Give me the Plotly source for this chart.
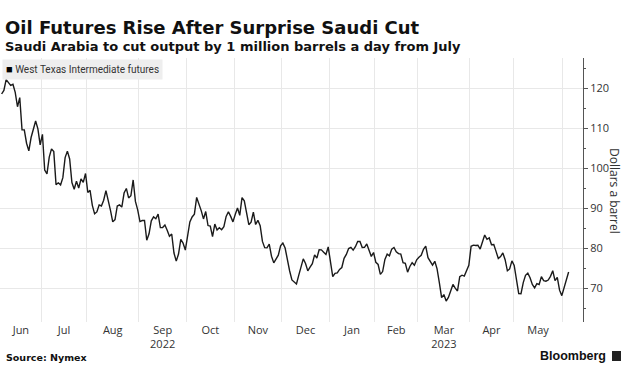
import pandas as pd
import plotly.graph_objects as go

# ---- data: WTI futures settlements (USD/bbl), one list per month ----
HOLIDAYS = ["2022-06-20", "2022-07-04", "2022-09-05", "2022-11-24", "2022-12-26",
            "2023-01-02", "2023-01-16", "2023-02-20", "2023-04-07", "2023-05-29"]
START, END = "2022-06-06", "2023-06-05"

jun22 = [118.50, 119.41, 122.11, 121.51, 120.67, 120.93, 118.93, 115.31, 117.59, 109.56,
         109.52, 106.19, 104.27, 107.62, 109.57, 111.76, 109.78, 105.76]
jul22 = [108.43, 99.50, 98.53, 102.73, 104.79, 104.09, 95.84, 96.30, 95.78, 97.59,
         102.60, 104.22, 102.26, 96.35, 94.70, 96.70, 94.98, 97.26, 96.42, 98.62]
aug22 = [93.89, 94.42, 90.66, 88.54, 89.01, 90.76, 90.50, 91.93, 94.34, 92.09, 89.41, 86.53,
         87.11, 90.50, 90.77, 90.23, 93.74, 94.89, 92.52, 93.06, 97.01, 91.64, 89.55]
sep22 = [86.61, 86.87, 86.88, 81.94, 83.54, 86.79, 87.78, 87.31, 88.48, 85.10, 85.11,
         85.73, 84.45, 82.94, 83.49, 78.74, 76.71, 78.50, 82.15, 81.23, 79.49]
oct22 = [83.63, 86.52, 87.76, 88.45, 92.64, 91.13, 89.35, 87.27, 89.11, 85.61, 85.46,
         82.82, 85.98, 84.51, 85.05, 84.58, 85.32, 87.91, 89.08, 87.90, 86.53]
nov22 = [88.37, 90.00, 88.17, 92.61, 91.79, 88.91, 85.83, 86.47, 88.96, 85.87, 86.92,
         85.59, 81.64, 80.08, 80.04, 80.95, 77.94, 76.28, 77.24, 78.20, 80.55]
dec22 = [81.22, 79.98, 76.93, 74.25, 72.01, 71.46, 71.02, 73.17, 75.39, 77.28, 76.11,
         74.29, 75.19, 76.09, 78.29, 77.49, 79.56, 79.53, 78.96, 78.40, 80.26]
jan23 = [76.93, 72.84, 73.67, 73.77, 74.63, 75.12, 77.41, 78.39, 79.86, 80.18,
         79.48, 80.33, 81.64, 81.62, 80.13, 80.15, 81.01, 79.68, 77.90, 78.87]
feb23 = [76.41, 75.88, 73.39, 74.11, 77.14, 78.47, 78.06, 79.72, 80.14, 79.06,
         78.59, 78.49, 76.34, 76.16, 73.95, 75.39, 76.32, 75.68, 77.05]
mar23 = [77.69, 78.16, 79.68, 80.46, 77.58, 76.66, 75.72, 76.68, 74.80, 71.33, 67.61, 68.35,
         66.74, 67.64, 69.33, 70.90, 69.96, 69.26, 72.81, 73.20, 72.97, 74.37, 75.67]
apr23 = [80.42, 80.71, 80.61, 80.70, 79.74, 81.53, 83.26, 82.16, 82.52, 80.83,
         80.86, 79.16, 77.37, 77.87, 78.76, 77.07, 74.30, 74.76, 76.78]
may23 = [75.66, 71.66, 68.60, 68.56, 71.34, 73.16, 73.71, 72.56, 70.87, 70.04, 71.11,
         70.86, 72.83, 71.86, 71.69, 71.99, 72.91, 74.34, 71.83, 72.67, 69.46, 68.09]
jun23 = [70.10, 71.74, 74.00]

MONTH_LABELS = ["Jun", "Jul", "Aug", "Sep<br>2022", "Oct", "Nov", "Dec",
                "Jan", "Feb", "Mar<br>2023", "Apr", "May"]

TITLE = "Oil Futures Rise After Surprise Saudi Cut"
SUBTITLE = "Saudi Arabia to cut output by 1 million barrels a day from July"
SERIES = "West Texas Intermediate futures"
Y_TITLE = "Dollars a barrel"
SOURCE = "Source: Nymex"

# ---- build trading-day series ----
prices = jun22 + jul22 + aug22 + sep22 + oct22 + nov22 + dec22 + jan23 + feb23 + mar23 + apr23 + may23 + jun23
dates = [d for d in pd.bdate_range(START, END) if d.strftime("%Y-%m-%d") not in HOLIDAYS]
assert len(dates) == len(prices), (len(dates), len(prices))
pos = list(range(len(dates)))  # trading-day axis

groups = {}
for i, d in enumerate(dates):
    groups.setdefault(d.strftime("%Y-%m"), []).append(i)
keys = list(groups)
tickvals = [(groups[k][0] + groups[k][-1]) / 2 for k in keys[:len(MONTH_LABELS)]]
gridvals = [groups[k][0] - 0.5 for k in keys[1:]]

fig = go.Figure()
fig.add_trace(go.Scatter(
    x=pos, y=prices, mode="lines",
    line=dict(color="#1a1a1a", width=1.4),
    customdata=[d.strftime("%b %d, %Y") for d in dates],
    hovertemplate="%{customdata}: %{y:.2f}<extra></extra>",
    showlegend=False,
))

PW, PH, T, B = 583, 264, 58, 58
def py(ypx):  # pixel row -> paper y
    return (T + PH - ypx) / PH
def px(xpx):
    return xpx / PW

fig.update_layout(
    width=642, height=380,
    margin=dict(l=0, r=642 - PW, t=T, b=B),
    paper_bgcolor="white", plot_bgcolor="white",
    showlegend=False,
    xaxis=dict(
        range=[-0.71, 256.34],
        tickmode="array", tickvals=tickvals, ticktext=MONTH_LABELS,
        showgrid=False, zeroline=False, showline=False, ticks="",
        tickfont=dict(family="Open Sans", size=11, color="#333"),
        minor=dict(tickmode="array", tickvals=gridvals, showgrid=True,
                   gridcolor="#e8e8e8", gridwidth=1, ticks=""),
    ),
    yaxis=dict(
        side="right", range=[61.5, 127.5], tick0=0, dtick=10,
        showgrid=True, gridcolor="#e8e8e8", gridwidth=1,
        zeroline=False, showline=True, linecolor="#555", linewidth=1,
        ticks="outside", ticklen=4, tickcolor="#555",
        minor=dict(dtick=5, ticks="outside", ticklen=2, tickcolor="#555", showgrid=False),
        tickfont=dict(family="Open Sans", size=11, color="#333"),
    ),
    annotations=[
        dict(text=f"<b>{TITLE}</b>", xref="paper", yref="paper", x=px(3), y=py(27),
             xanchor="left", yanchor="middle", showarrow=False,
             font=dict(family="DejaVu Sans", size=18, color="#111")),
        dict(text=f"<b>{SUBTITLE}</b>", xref="paper", yref="paper", x=px(3), y=py(46),
             xanchor="left", yanchor="middle", showarrow=False,
             font=dict(family="DejaVu Sans", size=13, color="#111")),
        dict(text=f"<span style='color:#000;font-size:11px'>■</span> {SERIES}",
             xref="paper", yref="paper",
             x=px(2), y=py(69.5), xanchor="left", yanchor="middle", showarrow=False,
             bgcolor="#eeeeee", borderpad=3,
             font=dict(family="Roboto", size=10, color="#333")),
        dict(text=Y_TITLE, xref="paper", yref="paper", x=px(615), y=py(191),
             xanchor="center", yanchor="middle", textangle=90, showarrow=False,
             font=dict(family="Open Sans", size=12, color="#333")),
        dict(text=f"<b>{SOURCE}</b>", xref="paper", yref="paper", x=px(4), y=py(357),
             xanchor="left", yanchor="middle", showarrow=False,
             font=dict(family="DejaVu Sans", size=9.5, color="#111")),
        dict(text="<b>Bloomberg</b>", xref="paper", yref="paper", x=px(608), y=py(356),
             xanchor="right", yanchor="middle", showarrow=False,
             font=dict(family="Liberation Sans", size=12.5, color="#111")),
    ],
    shapes=[
        dict(type="rect", xref="paper", yref="paper",
             x0=px(612), x1=px(621), y0=py(361), y1=py(351),
             fillcolor="#222", line=dict(width=0)),
    ],
)

fig.write_html(
    "out.html",
    config={"displayModeBar": False},
    post_script="document.body.style.margin='0';document.body.style.overflow='hidden';",
)
